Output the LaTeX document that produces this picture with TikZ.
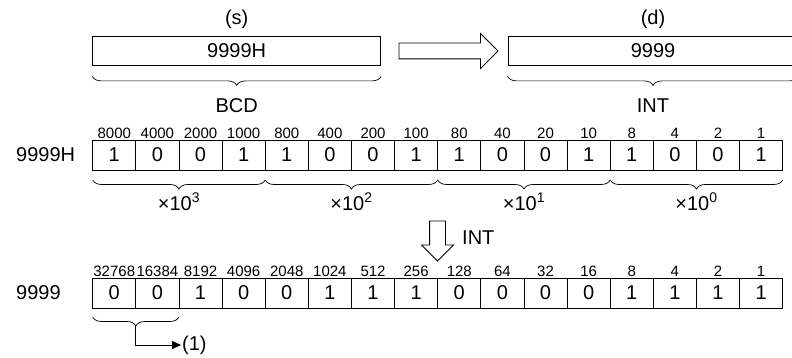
\documentclass[tikz,border=0pt]{standalone}
\usepackage{fontspec}
\setmainfont{Liberation Sans}
\usepackage{tikz}
\usetikzlibrary{positioning,shapes.arrows,decorations.pathreplacing,arrows.meta}

\begin{document}
\begin{tikzpicture}[x=1pt, y=-1pt,
  word/.style={rectangle, draw=black, line width=0.8pt, minimum width=288pt, minimum height=29pt, inner sep=0pt, font=\fontsize{20}{24}\selectfont},
  cell/.style={rectangle, draw=black, line width=0.8pt, minimum width=43.125pt, minimum height=30pt, inner sep=0pt, outer sep=0pt, font=\fontsize{20}{24}\selectfont},
  weight/.style={font=\fontsize{15}{18}\selectfont, inner sep=1.5pt},
  tag/.style={font=\fontsize{20}{24}\selectfont, inner sep=0pt},
  brace/.style={decorate, decoration={brace, mirror, amplitude=9pt}, line width=0.7pt},
  hollow/.style={single arrow, draw=black, line width=0.8pt, inner sep=7.5pt, single arrow head extend=9.5pt, single arrow head indent=0pt},
  arrow/.style={line width=0.8pt, -{Triangle[length=9pt, width=8pt]}}]

\clip (0,0) rectangle (792,358);

% Source and destination
\node[word] (s) at (236.7,50.5) {9999H};
\node[tag, above=7pt of s] (slab) {(s)};
\node[word, minimum width=290pt] (d) at (653,50.5) {9999};
\node[tag, above=7pt of d] (dlab) {(d)};
\node[hollow, minimum height=99pt] (conv) at (444.5,51) {};

\draw[brace] ([yshift=-11pt]s.south west) -- ([yshift=-11pt]s.south east) node[tag, midway, below=22pt] (bcd) {BCD};
\draw[brace] ([yshift=-11pt]d.south west) -- ([yshift=-11pt]d.south east) node[tag, midway, below=22pt] (int) {INT};

% BCD bits
\node[tag, anchor=west] (rowa) at (16,155) {9999H};
\node[cell, anchor=west, label={[weight]above:8000}] (a1) at (92.7,155) {1};
\node[cell, right=0pt of a1, label={[weight]above:4000}] (a2) {0};
\node[cell, right=0pt of a2, label={[weight]above:2000}] (a3) {0};
\node[cell, right=0pt of a3, label={[weight]above:1000}] (a4) {1};
\node[cell, right=0pt of a4, label={[weight]above:800}] (a5) {1};
\node[cell, right=0pt of a5, label={[weight]above:400}] (a6) {0};
\node[cell, right=0pt of a6, label={[weight]above:200}] (a7) {0};
\node[cell, right=0pt of a7, label={[weight]above:100}] (a8) {1};
\node[cell, right=0pt of a8, label={[weight]above:80}] (a9) {1};
\node[cell, right=0pt of a9, label={[weight]above:40}] (a10) {0};
\node[cell, right=0pt of a10, label={[weight]above:20}] (a11) {0};
\node[cell, right=0pt of a11, label={[weight]above:10}] (a12) {1};
\node[cell, right=0pt of a12, label={[weight]above:8}] (a13) {1};
\node[cell, right=0pt of a13, label={[weight]above:4}] (a14) {0};
\node[cell, right=0pt of a14, label={[weight]above:2}] (a15) {0};
\node[cell, right=0pt of a15, label={[weight]above:1}] (a16) {1};

\draw[brace] ([yshift=-10pt]a1.south west) -- ([yshift=-10pt]a4.south east) node[tag, midway, below=12.5pt] (e3) {×10\textsuperscript{3}};
\draw[brace] ([yshift=-10pt]a5.south west) -- ([yshift=-10pt]a8.south east) node[tag, midway, below=12.5pt] (e2) {×10\textsuperscript{2}};
\draw[brace] ([yshift=-10pt]a9.south west) -- ([yshift=-10pt]a12.south east) node[tag, midway, below=12.5pt] (e1) {×10\textsuperscript{1}};
\draw[brace] ([yshift=-10pt]a13.south west) -- ([yshift=-10pt]a16.south east) node[tag, midway, below=12.5pt] (e0) {×10\textsuperscript{0}};

% Conversion
\node[hollow, rotate=-90, minimum height=40pt, single arrow head extend=8pt] (down) at (437.5,237) {};
\node[tag, anchor=west] (intb) at (462,238) {INT};

% INT bits
\node[tag, anchor=west] (rowb) at (16,293) {9999};
\node[cell, anchor=west, label={[weight]above:32768}] (b1) at (92.7,293) {0};
\node[cell, right=0pt of b1, label={[weight]above:16384}] (b2) {0};
\node[cell, right=0pt of b2, label={[weight]above:8192}] (b3) {1};
\node[cell, right=0pt of b3, label={[weight]above:4096}] (b4) {0};
\node[cell, right=0pt of b4, label={[weight]above:2048}] (b5) {0};
\node[cell, right=0pt of b5, label={[weight]above:1024}] (b6) {1};
\node[cell, right=0pt of b6, label={[weight]above:512}] (b7) {1};
\node[cell, right=0pt of b7, label={[weight]above:256}] (b8) {1};
\node[cell, right=0pt of b8, label={[weight]above:128}] (b9) {0};
\node[cell, right=0pt of b9, label={[weight]above:64}] (b10) {0};
\node[cell, right=0pt of b10, label={[weight]above:32}] (b11) {0};
\node[cell, right=0pt of b11, label={[weight]above:16}] (b12) {0};
\node[cell, right=0pt of b12, label={[weight]above:8}] (b13) {1};
\node[cell, right=0pt of b13, label={[weight]above:4}] (b14) {1};
\node[cell, right=0pt of b14, label={[weight]above:2}] (b15) {1};
\node[cell, right=0pt of b15, label={[weight]above:1}] (b16) {1};

% Unused upper bits
\draw[brace] ([yshift=-9pt]b1.south west) -- ([yshift=-9pt]b2.south east);
\coordinate (tip) at ([yshift=-18pt]b1.south east);
\node[tag, anchor=west] (one) at (182,345) {(1)};
\draw[arrow, shorten >=1pt] (tip) |- (one.west);

\end{tikzpicture}
\end{document}
